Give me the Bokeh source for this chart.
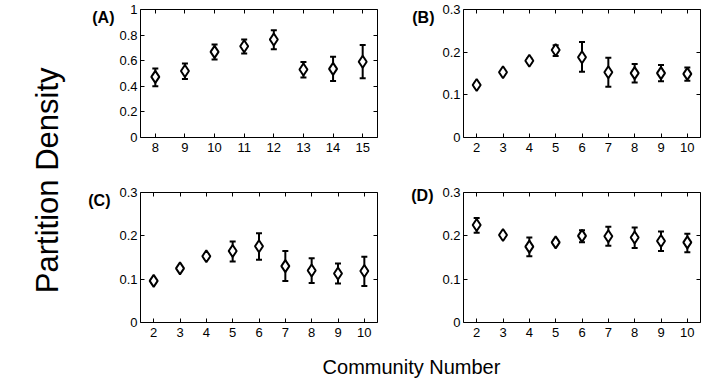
import math
from bokeh.plotting import figure
from bokeh.layouts import row, column
from bokeh.models import Range1d, FixedTicker, LinearAxis, Label
from bokeh.embed import file_html
from bokeh.resources import INLINE

FONT = "Liberation Sans"

# ---------------- data ----------------
x_A = [8, 9, 10, 11, 12, 13, 14, 15]
mean_A = [0.474, 0.520, 0.669, 0.713, 0.766, 0.531, 0.536, 0.592]
upper_A = [0.540, 0.578, 0.727, 0.766, 0.838, 0.589, 0.630, 0.723]
lower_A = [0.400, 0.458, 0.609, 0.656, 0.690, 0.469, 0.442, 0.462]

x_B = [2, 3, 4, 5, 6, 7, 8, 9, 10]
mean_B = [0.123, 0.153, 0.180, 0.205, 0.188, 0.153, 0.151, 0.151, 0.149]
upper_B = [0.127, 0.158, 0.185, 0.216, 0.224, 0.187, 0.172, 0.170, 0.164]
lower_B = [0.119, 0.148, 0.175, 0.191, 0.154, 0.119, 0.129, 0.132, 0.133]

x_C = [2, 3, 4, 5, 6, 7, 8, 9, 10]
mean_C = [0.096, 0.125, 0.153, 0.165, 0.176, 0.130, 0.120, 0.113, 0.119]
upper_C = [0.100, 0.130, 0.158, 0.187, 0.206, 0.165, 0.148, 0.136, 0.152]
lower_C = [0.092, 0.120, 0.148, 0.141, 0.145, 0.096, 0.091, 0.090, 0.084]

x_D = [2, 3, 4, 5, 6, 7, 8, 9, 10]
mean_D = [0.225, 0.202, 0.175, 0.185, 0.200, 0.199, 0.196, 0.188, 0.185]
upper_D = [0.241, 0.206, 0.196, 0.190, 0.213, 0.221, 0.219, 0.210, 0.205]
lower_D = [0.207, 0.198, 0.153, 0.180, 0.185, 0.177, 0.172, 0.165, 0.162]

yticks_A = [0.0, 0.2, 0.4, 0.6, 0.8, 1.0]
ylabels_A = ["0", "0.2", "0.4", "0.6", "0.8", "1"]
yticks_BCD = [0.0, 0.1, 0.2, 0.3]
ylabels_BCD = ["0", "0.1", "0.2", "0.3"]

panel_tags = ["(A)", "(B)", "(C)", "(D)"]
y_title = "Partition Density"
x_title = "Community Number"


def style_axis(ax, show_labels=True):
    ax.major_tick_in = 4
    ax.major_tick_out = 0
    ax.minor_tick_line_color = None
    ax.axis_line_color = "black"
    ax.major_tick_line_color = "black"
    ax.axis_line_width = 1
    ax.major_label_text_font = FONT
    ax.major_label_text_color = "black"
    ax.major_label_text_font_size = "13px"
    if not show_labels:
        ax.major_label_text_color = None
        ax.major_label_text_font_size = "1px"
        ax.major_label_standoff = 0


def panel(tag, xs, mean, lo, hi, xr, yticks, ylabels, w, h, bl, br, bt, bb, tag_y, tag_standoff):
    p = figure(width=w, height=h, x_range=Range1d(*xr), y_range=Range1d(yticks[0], yticks[-1]),
               output_backend="svg", toolbar_location=None,
               min_border_left=bl, min_border_right=br, min_border_top=bt, min_border_bottom=bb)
    p.grid.visible = False
    p.outline_line_color = None
    p.xaxis.ticker = FixedTicker(ticks=xs)
    p.yaxis.ticker = FixedTicker(ticks=yticks)
    p.yaxis.major_label_overrides = dict(zip(yticks, ylabels))
    style_axis(p.xaxis[0])
    style_axis(p.yaxis[0])
    p.xaxis[0].major_label_standoff = 5
    p.yaxis[0].major_label_standoff = 3

    # outer left axis carrying the panel tag, e.g. "(A)"
    tag_axis = LinearAxis(ticker=FixedTicker(ticks=[tag_y]),
                          major_label_overrides={tag_y: tag})
    tag_axis.axis_line_color = None
    tag_axis.major_tick_line_color = None
    tag_axis.minor_tick_line_color = None
    tag_axis.major_tick_in = 0
    tag_axis.major_tick_out = 0
    tag_axis.major_label_standoff = tag_standoff
    tag_axis.major_label_text_font = FONT
    tag_axis.major_label_text_font_style = "bold"
    tag_axis.major_label_text_font_size = "16px"
    tag_axis.major_label_text_color = "black"
    p.add_layout(tag_axis, "left")

    top = LinearAxis(ticker=FixedTicker(ticks=xs))
    right = LinearAxis(ticker=FixedTicker(ticks=yticks))
    style_axis(top, False)
    style_axis(right, False)
    p.add_layout(top, "above")
    p.add_layout(right, "right")

    p.segment(x0=xs, y0=lo, x1=xs, y1=hi, line_width=2, line_color="black")
    p.scatter(xs, hi, marker="dash", size=6, line_width=2, line_color="black")
    p.scatter(xs, lo, marker="dash", size=6, line_width=2, line_color="black")
    p.scatter(xs, mean, marker="diamond", size=12, fill_color="white",
              line_color="black", line_width=2)
    return p


pA = panel(panel_tags[0], x_A, mean_A, lower_A, upper_A, (7.5, 15.5), yticks_A, ylabels_A,
           315, 162, 68, 10, 9, 25, 0.9375, 2)
pB = panel(panel_tags[1], x_B, mean_B, lower_B, upper_B, (1.5, 10.5), yticks_BCD, ylabels_BCD,
           321, 162, 76, 8, 9, 25, 0.281, 5)
pC = panel(panel_tags[2], x_C, mean_C, lower_C, upper_C, (1.5, 10.5), yticks_BCD, ylabels_BCD,
           315, 180, 68, 10, 30, 20, 0.2815, 6)
pD = panel(panel_tags[3], x_D, mean_D, lower_D, upper_D, (1.5, 10.5), yticks_BCD, ylabels_BCD,
           321, 180, 76, 8, 30, 20, 0.293, 6)


def blank(w, h):
    f = figure(width=w, height=h, x_range=Range1d(0, 1), y_range=Range1d(0, 1),
               x_axis_type=None, y_axis_type=None, output_backend="svg",
               toolbar_location=None, min_border=0)
    f.grid.visible = False
    f.outline_line_color = None
    return f


ylab = blank(72, 381)
ylab.add_layout(Label(x=0.65, y=0.528, text=y_title, angle=math.pi / 2, text_font=FONT,
                      text_font_size="31px", text_align="center", text_baseline="middle",
                      text_color="black"))

xlab = blank(636, 39)
xlab.add_layout(Label(x=0.533, y=0.38, text=x_title, text_font=FONT,
                      text_font_size="20px", text_align="center", text_baseline="middle",
                      text_color="black"))

layout = row(ylab, column(row(pA, pB), row(pC, pD), xlab))

open("out.html", "w").write(file_html(layout, INLINE))
